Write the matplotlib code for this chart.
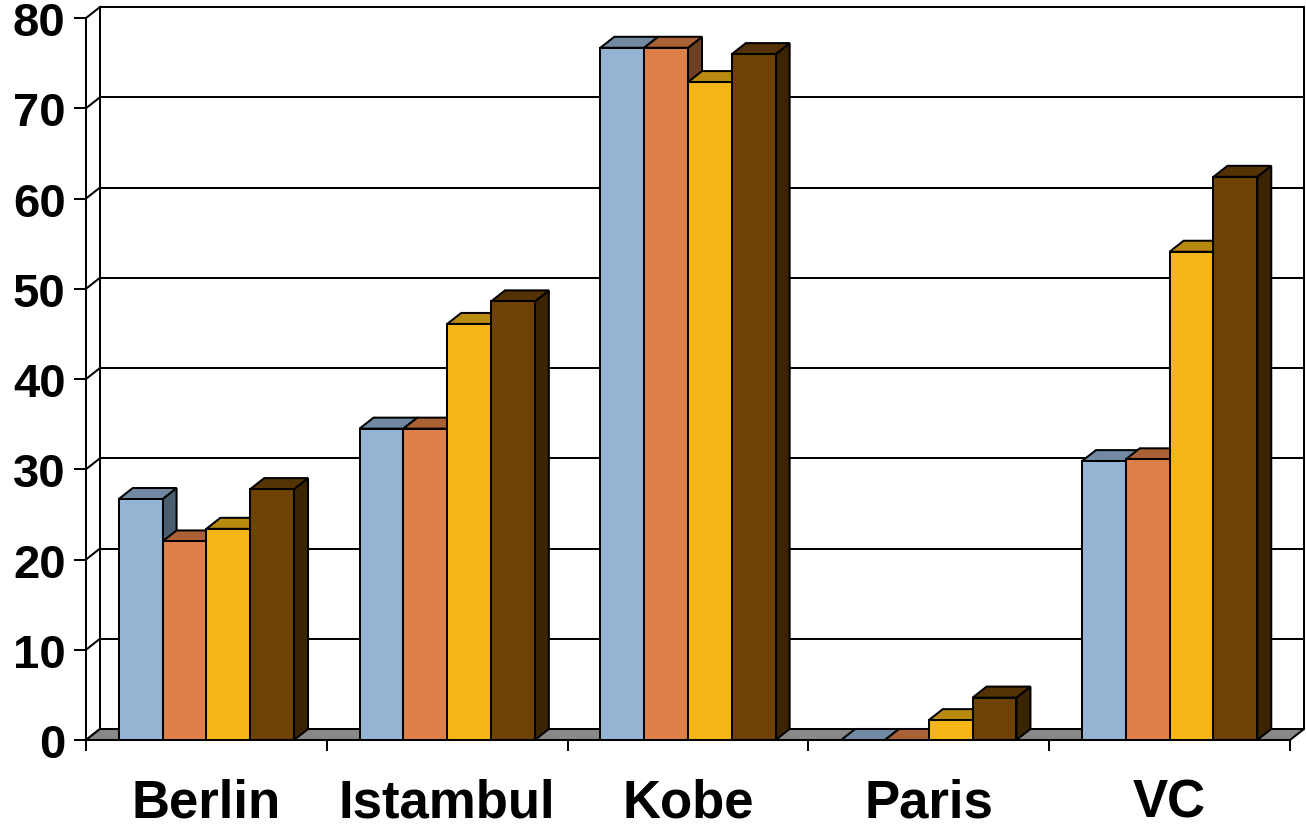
import matplotlib
matplotlib.use("Agg")
import matplotlib.pyplot as plt
from matplotlib.patches import Polygon, Rectangle

plt.rcParams['font.family'] = ['Liberation Sans', 'DejaVu Sans']
plt.rcParams['font.weight'] = 'bold'

cities = ['Berlin', 'Istambul', 'Kobe', 'Paris', 'VC']
serie1 = [26.7, 34.5, 76.7, 0.0, 30.9]
serie2 = [22.0, 34.5, 76.7, 0.0, 31.1]
serie3 = [23.4, 46.1, 72.9, 2.2, 54.1]
serie4 = [27.8, 48.6, 76.0, 4.7, 62.4]
yticks = [0, 10, 20, 30, 40, 50, 60, 70, 80]

# front, top, side shades for each series
shades = [
    ('#95b3d2', '#7189a2', '#4b5e71'),
    ('#de8049', '#ab6136', '#6e3f22'),
    ('#f6b61a', '#b98a10', '#7a5a0a'),
    ('#6e4205', '#543203', '#3a2402'),
]

W, H, DPI = 1306, 829, 100
LW = 1.45
fig = plt.figure(figsize=(W / DPI, H / DPI), dpi=DPI)
ax = fig.add_axes([86 / W, 88 / H, 1204 / W, 722 / H])
ax.set_xlim(-0.5, len(cities) - 0.5)
ax.set_ylim(0, 80)

# depth of the box in data units (14 px right, 11 px up)
ncat = len(cities)
dx = 14 / 1204 * ncat
dy = 11 / 722 * 80
x0, x1 = -0.5, ncat - 0.5
kw = dict(color='black', lw=LW, clip_on=False, solid_capstyle='projecting')

# back wall grid and left wall
for v in yticks:
    ax.plot([x0 + dx, x1 + dx], [v + dy, v + dy], zorder=1, **kw)
    ax.plot([x0, x0 + dx], [v, v + dy], zorder=1, **kw)
ax.plot([x0 + dx, x0 + dx], [dy, 80 + dy], zorder=1, **kw)
ax.plot([x1 + dx, x1 + dx], [dy, 80 + dy], zorder=1, **kw)

# floor
ax.add_patch(Polygon([(x0, 0), (x1, 0), (x1 + dx, dy), (x0 + dx, dy)],
                     closed=True, facecolor='#888888', edgecolor='black',
                     lw=LW, zorder=2, clip_on=False))

series = [serie1, serie2, serie3, serie4]
bw = 0.182
z = 3
for i in range(ncat):
    for k, s in enumerate(series):
        v = s[i]
        front, top, side = shades[k]
        bx = i - 2 * bw + k * bw
        pk = dict(edgecolor='black', lw=LW, clip_on=False, joinstyle='miter')
        ax.add_patch(Polygon([(bx + bw, 0), (bx + bw + dx, dy),
                              (bx + bw + dx, v + dy), (bx + bw, v)],
                             closed=True, facecolor=side, zorder=z, **pk))
        ax.add_patch(Polygon([(bx, v), (bx + bw, v), (bx + bw + dx, v + dy),
                              (bx + dx, v + dy)],
                             closed=True, facecolor=top, zorder=z, **pk))
        if v > 0:
            ax.add_patch(Rectangle((bx, 0), bw, v, facecolor=front,
                                   zorder=z, **pk))
        z += 1

for sp in ['top', 'right']:
    ax.spines[sp].set_visible(False)
for sp in ['left', 'bottom']:
    ax.spines[sp].set_linewidth(LW)
    ax.spines[sp].set_zorder(50)

ax.set_yticks(yticks)
ax.set_yticklabels([str(v) for v in yticks], fontsize=34, fontweight='bold')
ax.tick_params(axis='y', direction='out', length=8.6, width=LW, pad=6)

ax.set_xticks([x0 + j for j in range(ncat + 1)])
ax.set_xticklabels([])
ax.set_xticks(range(ncat), minor=True)
ax.set_xticklabels(cities, minor=True, fontsize=38, fontweight='bold')
ax.tick_params(axis='x', which='major', direction='out', length=8, width=LW)
ax.tick_params(axis='x', which='minor', length=0, pad=27)

fig.savefig('out.png', dpi=DPI)
